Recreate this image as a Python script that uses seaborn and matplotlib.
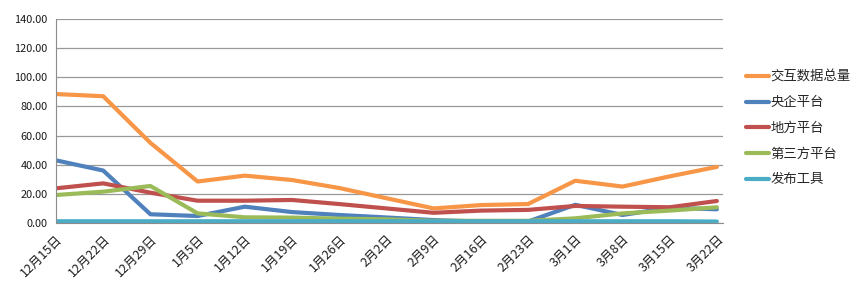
import matplotlib
matplotlib.use("Agg")
import matplotlib.pyplot as plt
import seaborn as sns
import pandas as pd

dates = ["12月15日", "12月22日", "12月29日", "1月5日", "1月12日", "1月19日", "1月26日",
         "2月2日", "2月9日", "2月16日", "2月23日", "3月1日", "3月8日", "3月15日", "3月22日"]
series_names = ["交互数据总量", "央企平台", "地方平台", "第三方平台", "发布工具"]
total = [88.5, 87.0, 55.0, 28.5, 32.5, 29.5, 24.0, 17.0, 10.0, 12.3, 13.0, 29.0, 25.0, 32.0, 38.5]
central = [43.0, 36.0, 6.0, 4.8, 11.2, 7.5, 5.5, 3.8, 2.0, 1.0, 1.0, 12.5, 5.5, 10.5, 9.4]
local = [23.8, 27.2, 20.8, 15.3, 15.3, 15.8, 13.0, 10.0, 7.0, 8.5, 9.0, 11.7, 11.2, 10.8, 15.1]
third = [19.2, 21.5, 25.4, 6.6, 3.9, 3.7, 3.0, 2.5, 1.5, 1.5, 1.5, 3.2, 6.6, 8.5, 10.8]
tool = [1.2, 1.2, 1.2, 1.2, 1.2, 1.2, 1.2, 1.2, 1.2, 1.2, 1.2, 1.2, 1.2, 1.2, 1.0]
colors = ["#F79646", "#4F81BD", "#C0504D", "#9BBB59", "#4BACC6"]

values = [total, central, local, third, tool]
rows = []
for name, vals in zip(series_names, values):
    for d, v in zip(dates, vals):
        rows.append({"date": d, "value": v, "series": name})
df = pd.DataFrame(rows)

sns.set_style("white")
plt.rcParams["font.family"] = ["Noto Sans CJK SC", "DejaVu Sans"]

fig = plt.figure(figsize=(8.66, 2.87), dpi=100)
ax = fig.add_axes([56 / 866, 1 - 223 / 287, (723 - 56) / 866, (223 - 19) / 287])

sns.lineplot(data=df, x="date", y="value", hue="series", hue_order=series_names,
             palette=colors, linewidth=3.0, ax=ax, sort=False, legend=True)

ax.set_xlim(0, 14.13)
ax.set_ylim(0, 140)
ax.set_yticks(range(0, 141, 20))
ax.set_yticklabels([f"{v:.2f}" for v in range(0, 141, 20)], fontsize=7.9, color="#1a1a1a")
ax.set_xticks(range(len(dates)))
ax.set_xticklabels(dates, rotation=45, ha="right", rotation_mode="anchor", fontsize=9.0,
                   color="#1a1a1a")
ax.set_xlabel("")
ax.set_ylabel("")
ax.yaxis.grid(True, color="#999999", linewidth=0.9)
ax.set_axisbelow(True)
for s in ["top", "right"]:
    ax.spines[s].set_visible(False)
ax.spines["left"].set_color("#8c8c8c")
ax.spines["bottom"].set_color("#8c8c8c")
ax.tick_params(axis="x", which="major", direction="out", length=5, width=0.9, color="#8c8c8c", pad=2)
ax.tick_params(axis="y", which="major", direction="out", length=4, width=0.9, color="#8c8c8c", pad=2)

leg = ax.legend(loc="center left", bbox_to_anchor=(734 / 866, 1 - 128 / 287),
                bbox_transform=fig.transFigure, frameon=False, fontsize=9.6,
                handlelength=1.75, handletextpad=0.1, labelspacing=0.87)
for line in leg.get_lines():
    line.set_linewidth(3.0)

fig.savefig("out.png", dpi=100)
